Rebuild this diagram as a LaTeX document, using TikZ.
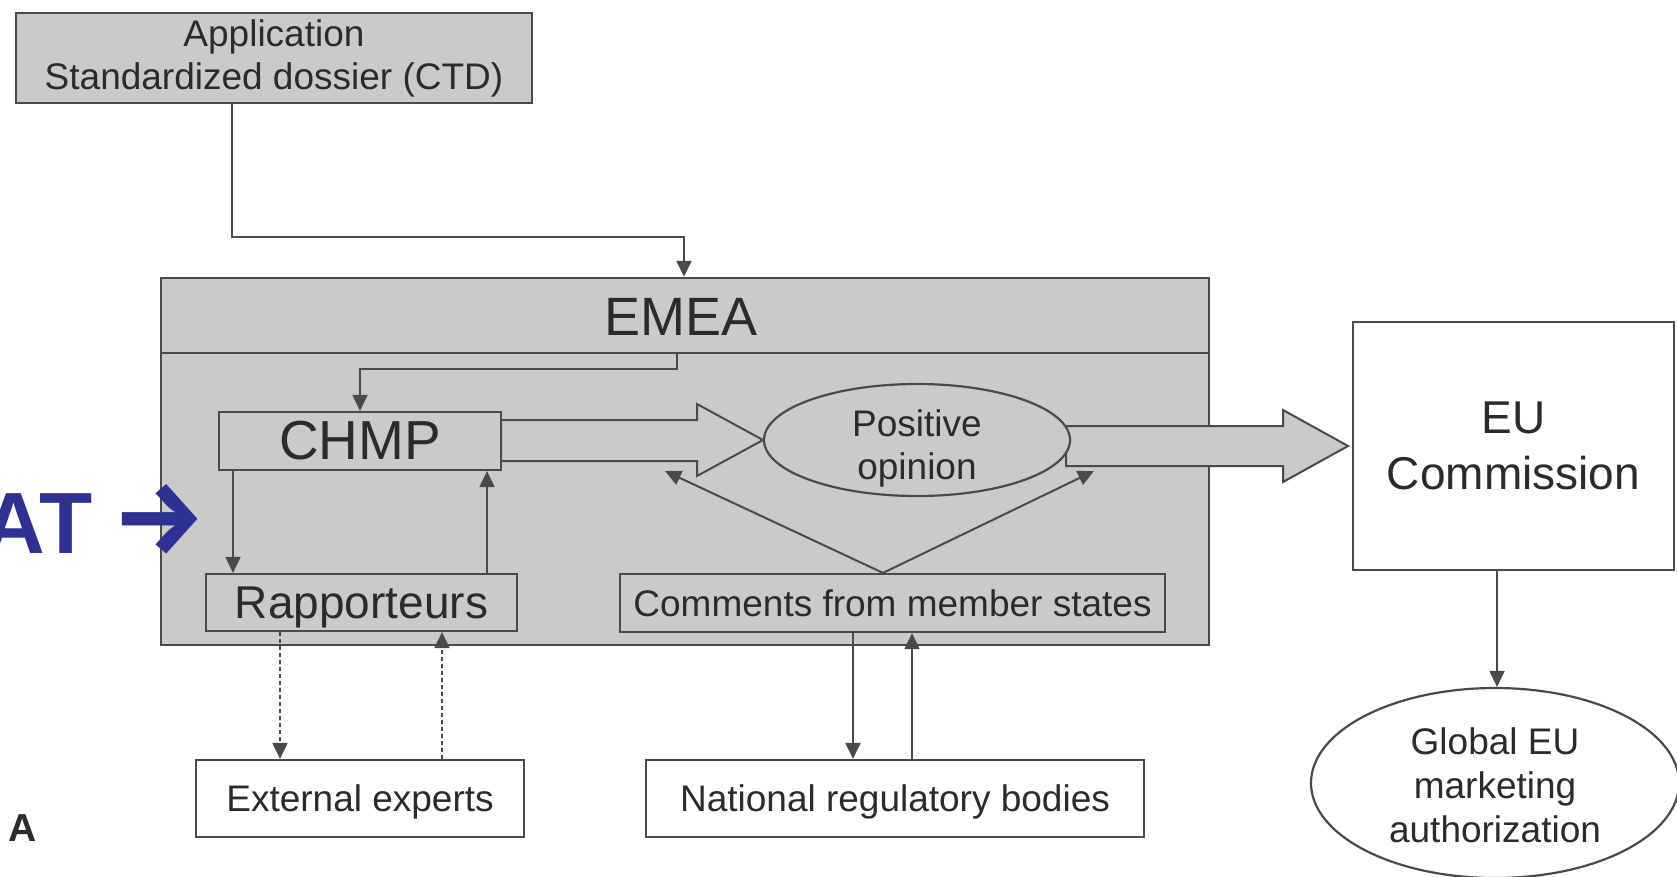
\documentclass[tikz,border=0pt]{standalone}
\usepackage{fontspec}
\setmainfont{Liberation Sans}
\newfontfamily\arrowfont{Fira Sans}
\usetikzlibrary{arrows.meta,calc,shapes.geometric}
\definecolor{boxfill}{HTML}{C9CACC}
\definecolor{lin}{HTML}{4A4A4A}
\definecolor{txt}{HTML}{2B2B2B}
\definecolor{navy}{HTML}{2E3192}
\begin{document}
\begin{tikzpicture}[x=1pt,y=-1pt,
 box/.style={draw=lin, line width=2.2pt, fill=boxfill, text=txt, align=center, inner sep=0pt, font=\fontsize{37}{43}\selectfont},
 wbox/.style={box, fill=white},
 conn/.style={draw=lin, line width=2pt, -{Triangle[width=15pt,length=16pt]}},
 dconn/.style={conn, dash pattern=on 4pt off 3pt},
 fat/.style={draw=lin, line width=2pt, fill=boxfill, line join=miter},
 lbl/.style={text=txt, align=center, inner sep=0pt, font=\fontsize{37}{43}\selectfont},
]
\useasboundingbox (0,0) rectangle (1677,876);

% helper columns / rows
\coordinate (hdr) at (0,353);
\coordinate (turnA) at (0,237);
\coordinate (colA) at (232,0);
\coordinate (colE) at (684,0);
\coordinate (colH) at (677,0);
\coordinate (turnH) at (0,369);
\coordinate (colR1) at (233,0);
\coordinate (colR2) at (487,0);
\coordinate (colX1) at (280,0);
\coordinate (colX2) at (442,0);
\coordinate (colN1) at (853,0);
\coordinate (colN2) at (912,0);
\coordinate (colC) at (883,0);
\coordinate (colG) at (1497,0);
\coordinate (tipL) at (665,471);
\coordinate (tipR) at (1094,471);

% application
\node[box, minimum width=516, minimum height=90] (app) at (274,58) {Application\\Standardized dossier (CTD)};

% EMEA
\node[box, line width=2.5pt, minimum width=1048, minimum height=367] (emea) at (685,461.5) {};
\draw[draw=lin, line width=2.2pt] (emea.west |- hdr) -- (emea.east |- hdr);
\node[text=txt, font=\fontsize{54}{60}\selectfont, inner sep=0pt] (emeat) at (681,317) {EMEA};

\node[box, minimum width=282, minimum height=58, font=\fontsize{55}{60}\selectfont] (chmp) at (360,441) {CHMP};
\node[box, minimum width=311, minimum height=57, text depth=0pt, font=\fontsize{46}{50}\selectfont] (rapp) at (361.5,602.5) {Rapporteurs};
\node[box, minimum width=545, minimum height=58] (comm) at (892.5,603) {Comments from member states};

% big arrows
\draw[fat] (501,420) -- (697,420) -- (697,404) -- (763,440) -- (697,476) -- (697,461) -- (501,461) -- cycle;
\draw[fat] (1066,426) -- (1283,426) -- (1283,410) -- (1348,446) -- (1283,482) -- (1283,466) -- (1066,466) -- cycle;

\node[box, ellipse, minimum width=306, minimum height=112] (opin) at (917,440) {};
\node[lbl] (opint) at ([yshift=-8pt]opin.center) {Positive\\opinion};

% outside nodes
\node[wbox, minimum width=328, minimum height=77, text depth=0pt] (ext) at (360,798.5) {External experts};
\node[wbox, minimum width=498, minimum height=77, text depth=0pt] (nat) at (895,798.5) {National regulatory bodies};
\node[wbox, minimum width=321, minimum height=248, font=\fontsize{46}{56}\selectfont] (eu) at (1513.5,446) {EU\\Commission};
\node[wbox, ellipse, minimum width=368, minimum height=190] (glob) at (1495,783) {};
\node[lbl, font=\fontsize{37}{44}\selectfont] (globt) at ([yshift=-2pt]glob.center) {Global EU\\marketing\\authorization};

% connectors
\draw[conn] (app.south -| colA) -- (colA |- turnA) -- (colE |- turnA) -- (emea.north -| colE);
\draw[conn] (colH |- hdr) -- (colH |- turnH) -| (chmp.north);
\draw[conn] (chmp.south -| colR1) -- (rapp.north -| colR1);
\draw[conn] (rapp.north -| colR2) -- (chmp.south -| colR2);
\draw[conn] (comm.north -| colC) -- (tipL);
\draw[conn] (comm.north -| colC) -- (tipR);
\draw[dconn] (rapp.south -| colX1) -- (ext.north -| colX1);
\draw[dconn] (ext.north -| colX2) -- (rapp.south -| colX2);
\draw[conn] (comm.south -| colN1) -- (nat.north -| colN1);
\draw[conn] (nat.north -| colN2) -- (comm.south -| colN2);
\draw[conn] (eu.south -| colG) -- (glob.north -| colG);

% labels
\node[text=txt, font=\fontsize{39}{40}\selectfont\bfseries, inner sep=0pt] (lblA) at (23,828) {A};
\node[anchor=east, text=navy, font=\fontsize{87}{90}\selectfont\bfseries, inner sep=0pt] (at) at (206,519) {AT\hspace{20pt}{\arrowfont\fontsize{104}{104}\selectfont →}};
\end{tikzpicture}
\end{document}
